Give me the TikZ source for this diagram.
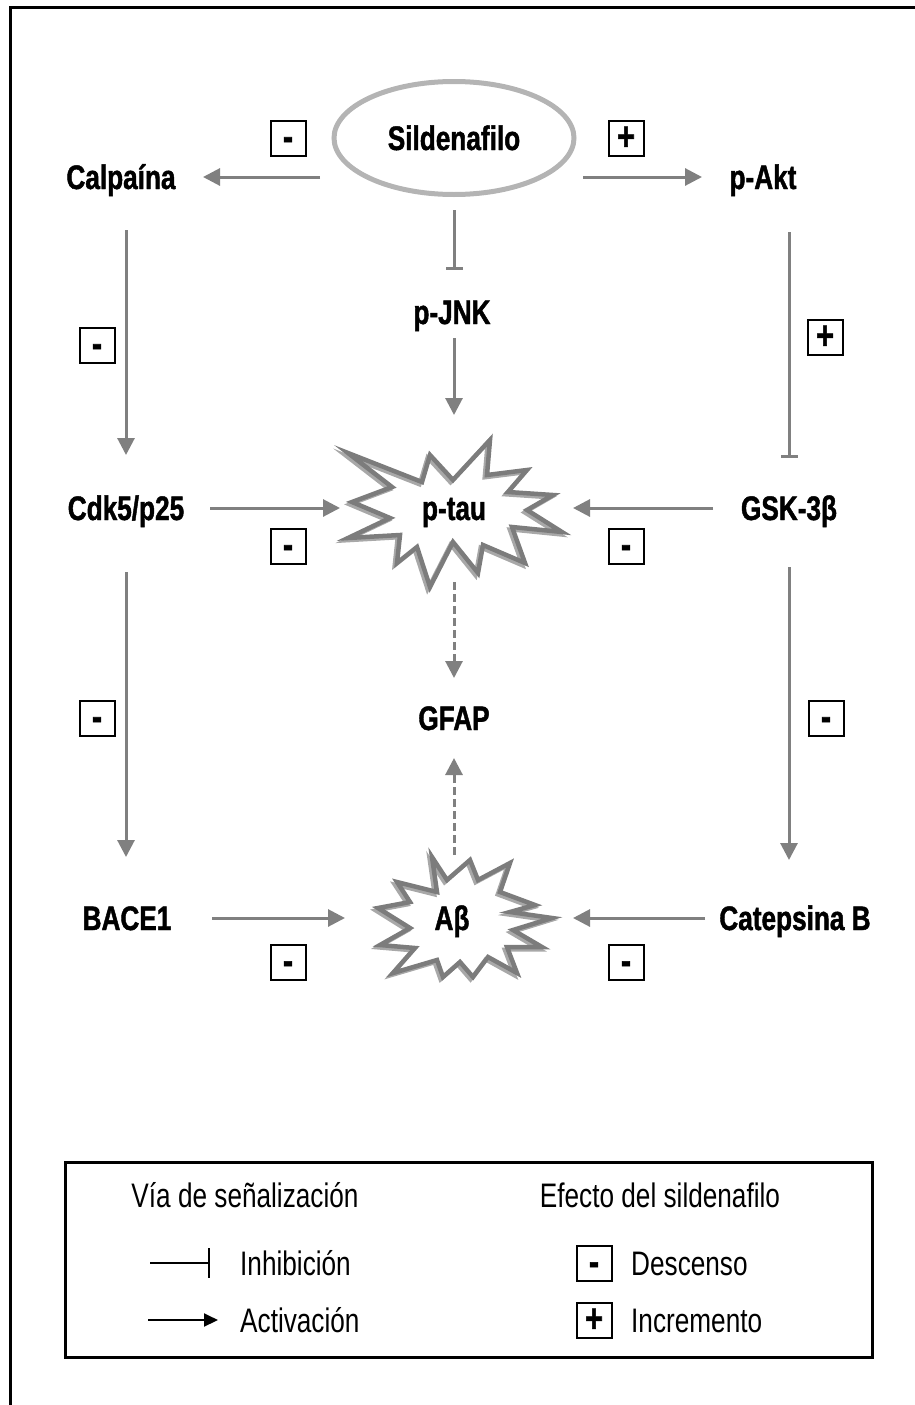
\documentclass[tikz,border=0pt]{standalone}
\usepackage{fontspec}
\setmainfont{Liberation Sans}[FakeStretch=0.77]
\newfontfamily\lblfont{Liberation Sans Bold}[FakeStretch=0.77,FakeBold=1.3]
\usetikzlibrary{arrows.meta,shapes.geometric}
\definecolor{arrgray}{HTML}{808080}
\definecolor{ellgray}{HTML}{B4B4B4}
\definecolor{stargray}{HTML}{7C7C7C}
\definecolor{starshadow}{HTML}{A8A8A8}
\begin{document}
\begin{tikzpicture}[x=1pt,y=-1pt,
 lbl/.style={font=\lblfont\fontsize{34}{40}\selectfont, inner sep=0pt, text height=24pt, text depth=0pt},
 leg/.style={font=\fontsize{34}{40}\selectfont, inner sep=0pt, text height=24pt, text depth=0pt},
 arr/.style={draw=arrgray, line width=3pt, -{Triangle[length=17pt,width=17pt]}},
 inh/.style={draw=arrgray, line width=3pt, -{Bar[width=17pt,line width=3pt]}},
 darr/.style={arr, dash pattern=on 8pt off 4pt},
 sign/.style={draw=black, line width=2pt, minimum size=35pt, inner sep=0pt, font=\lblfont\fontsize{40}{42}\selectfont, text height=24pt, text depth=0pt},
 burst/.style={draw=stargray, line width=4.5pt, line join=miter},
 burstsh/.style={draw=starshadow, line width=4pt, line join=miter}
]
\useasboundingbox (0,0) rectangle (915,1405);
% outer frame (cropped)
\draw[line width=3pt] (10,1405) -- (10,8) -- (915,8);

% starbursts
\draw[burstsh, xshift=-2.5pt, yshift=-2.5pt] (348,453) -- (422,482) -- (430,455) -- (453,480) -- (490,440) -- (487,475) -- (527,470) -- (508,492) -- (553,495) -- (527,510) -- (562,532) -- (512,527) -- (525,563) -- (483,545) -- (478,573) -- (453,542) -- (430,587) -- (417,547) -- (397,563) -- (400,535) -- (348,538) -- (390,518) -- (352,502) -- (392,487) -- cycle;
\draw[burst] (348,453) -- (422,482) -- (430,455) -- (453,480) -- (490,440) -- (487,475) -- (527,470) -- (508,492) -- (553,495) -- (527,510) -- (562,532) -- (512,527) -- (525,563) -- (483,545) -- (478,573) -- (453,542) -- (430,587) -- (417,547) -- (397,563) -- (400,535) -- (348,538) -- (390,518) -- (352,502) -- (392,487) -- cycle;
\draw[burstsh, xshift=-2.5pt, yshift=-2.5pt] (432,857) -- (447,880) -- (470,860) -- (478,880) -- (510,863) -- (500,892) -- (535,905) -- (510,912) -- (552,918) -- (513,930) -- (542,947) -- (507,947) -- (517,973) -- (488,957) -- (473,977) -- (460,962) -- (443,977) -- (437,960) -- (393,973) -- (415,948) -- (380,945) -- (410,928) -- (378,908) -- (410,902) -- (397,882) -- (437,892) -- cycle;
\draw[burst] (432,857) -- (447,880) -- (470,860) -- (478,880) -- (510,863) -- (500,892) -- (535,905) -- (510,912) -- (552,918) -- (513,930) -- (542,947) -- (507,947) -- (517,973) -- (488,957) -- (473,977) -- (460,962) -- (443,977) -- (437,960) -- (393,973) -- (415,948) -- (380,945) -- (410,928) -- (378,908) -- (410,902) -- (397,882) -- (437,892) -- cycle;

% nodes
\node[draw=ellgray, line width=5pt, ellipse, minimum width=240pt, minimum height=113pt, lbl] (sil) at (454,138) {Sildenafilo};
\node[lbl] (calp) at (121,177) {Calpaína};
\node[lbl] (pakt) at (763,177) {p-Akt};
\node[lbl] (pjnk) at (452,312) {p-JNK};
\node[lbl] (cdk) at (126,508) {Cdk5/p25};
\node[lbl] (ptau) at (454,508) {p-tau};
\node[lbl] (gsk) at (789,508) {GSK-3β};
\node[lbl] (gfap) at (454,718) {GFAP};
\node[lbl] (bace) at (127,918) {BACE1};
\node[lbl] (ab) at (452,918) {Aβ};
\node[lbl] (cat) at (795,918) {Catepsina B};

% connectors
\draw[arr, shorten <=134pt, shorten >=82pt] (sil.center |- calp.center) -- (calp.center);
\draw[arr, shorten <=129pt, shorten >=61pt] (sil.center |- pakt.center) -- (pakt.center);
\draw[inh, shorten <=72pt, shorten >=42pt] (sil.center) -- (sil.center |- pjnk.center);
\draw[arr, shorten <=26pt, shorten >=93pt] (ptau.center |- pjnk.center) -- (ptau.center);
\draw[arr, shorten <=53pt, shorten >=53pt] (cdk.center |- calp.center) -- (cdk.center);
\draw[arr, shorten <=64pt, shorten >=61pt] (cdk.center) -- (cdk.center |- bace.center);
\draw[inh, shorten <=55pt, shorten >=50pt] (gsk.center |- pakt.center) -- (gsk.center);
\draw[arr, shorten <=59pt, shorten >=58pt] (gsk.center) -- (gsk.center |- cat.center);
\draw[arr, shorten <=84pt, shorten >=114pt] (cdk.center) -- (ptau.center);
\draw[arr, shorten <=76pt, shorten >=119pt] (gsk.center) -- (ptau.center);
\draw[arr, shorten <=85pt, shorten >=107pt] (bace.center) -- (ab.center);
\draw[arr, shorten <=90pt, shorten >=121pt] (cat.center) -- (ab.center);
\draw[darr, shorten <=74pt, shorten >=40pt] (ptau.center) -- (gfap.center);
\draw[darr, shorten <=63pt, shorten >=40pt] (ab.center -| gfap.center) -- (gfap.center);

% sign boxes
\node[sign] (s1) at (288,138) {-};
\node[sign] (s2) at (626,138) {+};
\node[sign] (s3) at (97,345) {-};
\node[sign] (s4) at (825,337) {+};
\node[sign] (s5) at (288,546) {-};
\node[sign] (s6) at (626,546) {-};
\node[sign] (s7) at (97,718) {-};
\node[sign] (s8) at (826,718) {-};
\node[sign] (s9) at (288,962) {-};
\node[sign] (s10) at (626,962) {-};

% legend
\node[draw=black, line width=3pt, minimum width=807pt, minimum height=195pt, inner sep=0pt] (legbox) at (468.5,1259.5) {};
\node[leg] (legA) at (245,1195) {Vía de señalización};
\node[leg] (legB) at (660,1195) {Efecto del sildenafilo};
\node[leg, anchor=west] (inhT) at (240,1263) {Inhibición};
\node[leg, anchor=west] (actT) at (240,1320) {Activación};
\node[sign] (s11) at (594,1263) {-};
\node[sign] (s12) at (594,1320) {+};
\node[leg, anchor=west] (desT) at (631,1263) {Descenso};
\node[leg, anchor=west] (incT) at (631,1320) {Incremento};
\coordinate (i0) at (150,1263);
\coordinate (a0) at (148,1320);
\draw[line width=2pt, -{Bar[width=30pt,line width=2pt]}, shorten >=30pt] (i0) -- (inhT.west);
\draw[line width=2pt, -{Triangle[length=14pt,width=13pt]}, shorten >=22pt] (a0) -- (actT.west);
\end{tikzpicture}
\end{document}
